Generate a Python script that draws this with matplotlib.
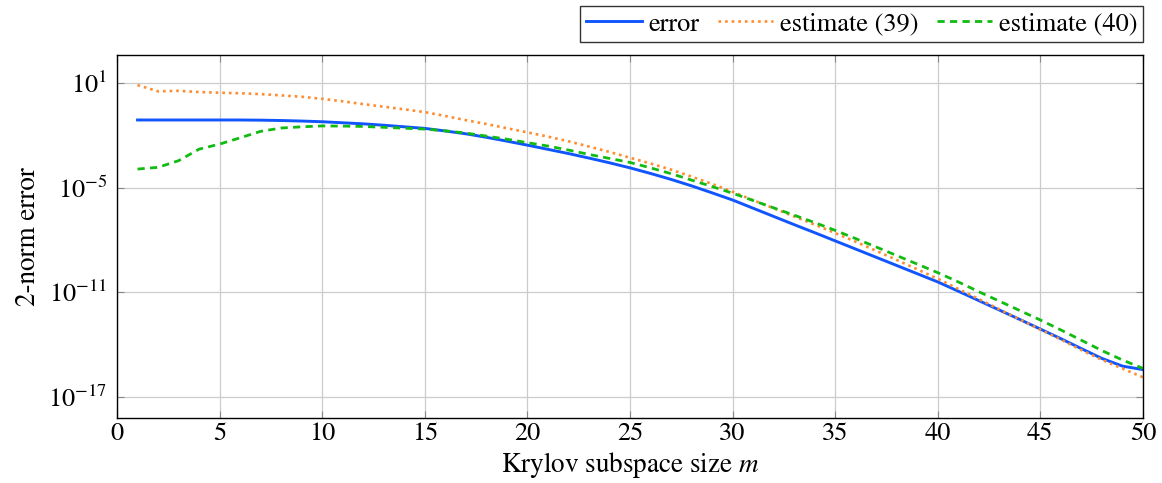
import matplotlib
matplotlib.use("Agg")
import matplotlib.pyplot as plt
import numpy as np

plt.rcParams["font.family"] = "STIXGeneral"
plt.rcParams["mathtext.fontset"] = "stix"

# Krylov subspace sizes and log10 of the 2-norm errors / estimates
m = list(range(1, 51))

error_log10 = [
    -1.13, -1.13, -1.13, -1.13, -1.13, -1.13, -1.14, -1.16, -1.19, -1.23,
    -1.29, -1.35, -1.43, -1.52, -1.61, -1.76, -1.92, -2.12, -2.34, -2.57,
    -2.81, -3.05, -3.31, -3.58, -3.87, -4.19, -4.53, -4.90, -5.30, -5.71,
    -6.18, -6.65, -7.12, -7.58, -8.05, -8.52, -8.99, -9.46, -9.93, -10.40,
    -10.93, -11.47, -12.01, -12.55, -13.10, -13.65, -14.22, -14.78, -15.22, -15.42,
]

estimate39_log10 = [
    0.87, 0.51, 0.54, 0.47, 0.43, 0.40, 0.35, 0.28, 0.20, 0.08,
    -0.06, -0.22, -0.37, -0.52, -0.68, -0.90, -1.14, -1.36, -1.60, -1.84,
    -2.08, -2.35, -2.65, -2.96, -3.29, -3.62, -3.97, -4.37, -4.79, -5.24,
    -5.72, -6.18, -6.65, -7.12, -7.60, -8.10, -8.62, -9.14, -9.68, -10.22,
    -10.80, -11.38, -11.97, -12.55, -13.13, -13.70, -14.30, -14.86, -15.36, -15.86,
]

estimate40_log10 = [
    -3.94, -3.84, -3.46, -2.80, -2.51, -2.15, -1.78, -1.59, -1.52, -1.47,
    -1.48, -1.50, -1.55, -1.60, -1.65, -1.75, -1.88, -2.05, -2.23, -2.43,
    -2.62, -2.85, -3.10, -3.33, -3.56, -3.87, -4.20, -4.57, -4.94, -5.32,
    -5.74, -6.16, -6.58, -7.00, -7.45, -7.92, -8.40, -8.89, -9.38, -9.87,
    -10.40, -10.96, -11.50, -12.04, -12.58, -13.15, -13.74, -14.33, -14.87, -15.35,
]

error = 10.0 ** np.array(error_log10)
estimate39 = 10.0 ** np.array(estimate39_log10)
estimate40 = 10.0 ** np.array(estimate40_log10)

fig = plt.figure(figsize=(11.62, 4.83), dpi=100)
ax = fig.add_axes([0.1007, 0.1346, 0.8829, 0.7515])

ax.plot(m, error, color="#1155ff", lw=2.1, label="error")
ax.plot(m, estimate39, color="#ff8c2e", lw=1.9, dashes=(1.0, 1.5),
        label="estimate (39)")
ax.plot(m, estimate40, color="#11bb11", lw=2.0, dashes=(2.6, 1.9),
        label="estimate (40)")

ax.set_yscale("log")
ax.set_xlim(0, 50)
ax.set_ylim(10 ** -18.19, 10 ** 2.59)
ax.set_xticks(np.arange(0, 51, 5))
ax.set_yticks([1e1, 1e-5, 1e-11, 1e-17])
ax.set_yticklabels([r"$10^{1}$", r"$10^{-5}$", r"$10^{-11}$", r"$10^{-17}$"])
ax.yaxis.set_minor_locator(matplotlib.ticker.NullLocator())

ax.grid(True, color="#cccccc", lw=0.9)
ax.set_axisbelow(True)
ax.tick_params(direction="in", length=5, width=0.8, color="#888888",
               top=True, right=True, labelsize=19)
ax.tick_params(axis="x", pad=3)
ax.tick_params(axis="y", pad=7)
for s in ax.spines.values():
    s.set_linewidth(1.0)

ax.set_xlabel(r"Krylov subspace size $m$", fontsize=19.5, labelpad=3)
ax.set_ylabel("2-norm error", fontsize=19.5, labelpad=5)

leg = ax.legend(loc="lower right", bbox_to_anchor=(1.0, 1.035), ncol=3,
                fontsize=19, frameon=True, fancybox=False, edgecolor="black",
                borderpad=0.22, handlelength=2.1, handletextpad=0.25,
                columnspacing=0.7, borderaxespad=0.0)
leg.get_frame().set_linewidth(1.0)

fig.savefig("out.png", dpi=100)
